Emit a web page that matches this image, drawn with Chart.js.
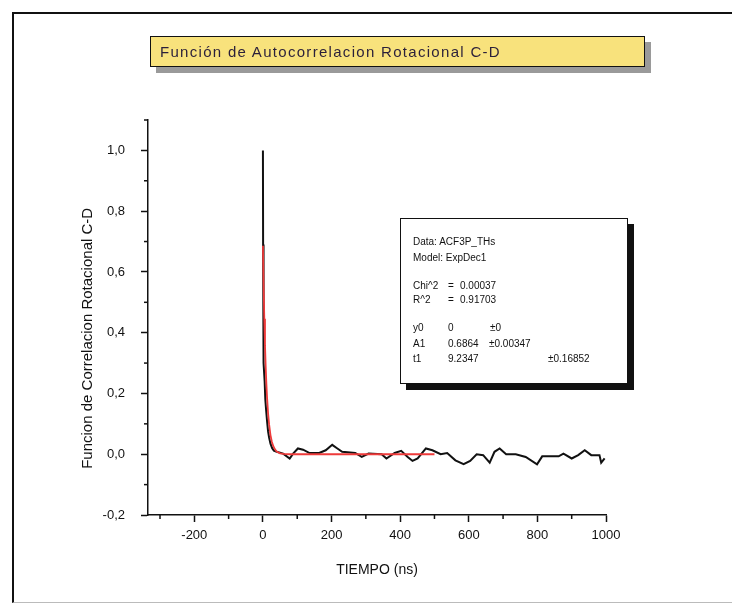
<!DOCTYPE html>
<html>
<head>
<meta charset="utf-8">
<script src="https://cdn.jsdelivr.net/npm/chart.js@4.4.1/dist/chart.umd.min.js"></script>
<style>
  html, body { margin: 0; padding: 0; background: #fff; }
  #wrap { position: relative; width: 732px; height: 605px; overflow: hidden; }
  #frame { position: absolute; left: 12px; top: 12px; width: 740px; height: 588px;
    border-left: 2px solid #111; border-top: 2px solid #111; border-bottom: 1px solid #bbb; }
  #title { position: absolute; left: 150px; top: 36px; width: 484px; height: 29px;
    background: #f8e27c; border: 1.5px solid #111; box-shadow: 6px 6px 0 #9a9a9a;
    font: 15px "Liberation Sans", Arial, sans-serif; letter-spacing: 1.3px; color: #2a1f3a;
    line-height: 29px; padding-left: 9px; box-sizing: content-box; }
  #info { position: absolute; left: 400px; top: 218px; width: 226px; height: 164px;
    background: #fff; border: 1.5px solid #111; box-shadow: 6px 6px 0 #111;
    font: 10px "Liberation Sans Narrow", "Liberation Sans", Arial, sans-serif; color: #111; }
  #info div { position: absolute; white-space: pre; }
  canvas { position: absolute; left: 0; top: 0; }
</style>
</head>
<body>
<div id="wrap">
  <div id="frame"></div>
  <canvas id="chart" width="732" height="605"></canvas>
  <div id="title">Función de Autocorrelacion Rotacional C-D</div>
  <div id="info">
    <div style="left:12px;top:17px">Data: ACF3P_THs</div>
    <div style="left:12px;top:33px">Model: ExpDec1</div>
    <div style="left:12px;top:61px">Chi^2</div><div style="left:47px;top:61px">=</div><div style="left:59px;top:61px">0.00037</div>
    <div style="left:12px;top:75px">R^2</div><div style="left:47px;top:75px">=</div><div style="left:59px;top:75px">0.91703</div>
    <div style="left:12px;top:103px">y0</div><div style="left:47px;top:103px">0</div><div style="left:89px;top:103px">±0</div>
    <div style="left:12px;top:119px">A1</div><div style="left:47px;top:119px">0.6864</div><div style="left:88px;top:119px">±0.00347</div>
    <div style="left:12px;top:134px">t1</div><div style="left:47px;top:134px">9.2347</div><div style="left:147px;top:134px">±0.16852</div>
  </div>
</div>
<script>
// measured autocorrelation (black)
var dataTime = [0, 0.5, 1, 1.5, 3, 5, 7, 9, 12, 15, 18, 22, 27, 32, 40, 59, 78, 88, 102, 117,
  136, 164, 183, 202, 217, 231, 269, 288, 308, 346, 360, 384, 403, 422, 436, 451, 475, 494,
  518, 537, 561, 585, 604, 623, 642, 661, 675, 690, 709, 737, 766, 799, 814, 862, 876, 900,
  919, 938, 957, 981, 986, 996];
var dataValue = [1.0, 0.69, 0.45, 0.38, 0.30, 0.24, 0.18, 0.15, 0.11, 0.075, 0.055, 0.035, 0.02, 0.012, 0.008, 0.002, -0.014, 0.002, 0.019, 0.015,
  0.004, 0.004, 0.013, 0.031, 0.019, 0.008, 0.004, -0.009, 0.002, 0.0, -0.014, 0.004, 0.011, -0.009, -0.022, -0.014, 0.019, 0.013,
  0.0, 0.004, -0.02, -0.033, -0.022, 0.0, -0.003, -0.028, 0.008, 0.019, 0.0, 0.0, -0.009, -0.033, -0.007, -0.007, 0.002, -0.014,
  -0.003, 0.013, -0.003, -0.003, -0.028, -0.014];

// ExpDec1 fit (red)
var fitTime = [0, 2, 4, 6, 8, 10, 12, 15, 18, 22, 26, 30, 35, 40, 50, 60, 80, 500];
var fitValue = [0.686, 0.553, 0.446, 0.359, 0.289, 0.233, 0.187, 0.135, 0.098, 0.063, 0.041, 0.027, 0.016, 0.009, 0.003, 0.001, 0.0, 0.0];

var xMajor = [-200, 0, 200, 400, 600, 800, 1000];
var yMajor = [-0.2, 0.0, 0.2, 0.4, 0.6, 0.8, 1.0];

function pairs(xs, ys) {
  return xs.map(function(x, i) { return {x: x, y: ys[i]}; });
}

function isMajor(list, v) {
  return list.some(function(m) { return Math.abs(m - v) < 1e-6; });
}

// short minor ticks, drawn through the scales
var minorTicks = {
  id: 'minorTicks',
  afterDraw: function(chart) {
    var c = chart.ctx;
    var xs = chart.scales.x, ys = chart.scales.y;
    c.save();
    c.strokeStyle = '#111';
    c.lineWidth = 1.5;
    xs.ticks.forEach(function(t) {
      if (isMajor(xMajor, t.value)) return;
      var px = xs.getPixelForValue(t.value);
      c.beginPath(); c.moveTo(px, xs.top); c.lineTo(px, xs.top + 4); c.stroke();
    });
    ys.ticks.forEach(function(t) {
      if (isMajor(yMajor, t.value)) return;
      var py = ys.getPixelForValue(t.value);
      c.beginPath(); c.moveTo(ys.right, py); c.lineTo(ys.right - 4, py); c.stroke();
    });
    c.restore();
  }
};

var ctx = document.querySelector('#chart').getContext('2d');

new Chart(ctx, {
  type: 'line',
  data: {
    datasets: [
      {
        data: pairs(fitTime, fitValue),
        borderColor: '#ee3a3a',
        borderWidth: 1.8,
        pointRadius: 0,
        tension: 0,
        order: 0
      },
      {
        data: pairs(dataTime, dataValue),
        borderColor: '#111',
        borderWidth: 2,
        pointRadius: 0,
        tension: 0,
        order: 1
      }
    ]
  },
  options: {
    responsive: false,
    animation: false,
    layout: { padding: { top: 120, right: 126, left: 0, bottom: 0 } },
    plugins: { legend: { display: false }, tooltip: { enabled: false } },
    scales: {
      x: {
        type: 'linear',
        min: -335,
        max: 1000,
        afterFit: function(s) { s.height = 90; },
        border: { display: true, color: '#111', width: 1.5 },
        grid: {
          drawOnChartArea: false,
          tickLength: 7,
          tickWidth: 1.5,
          tickColor: function(c) { return isMajor(xMajor, c.tick.value) ? '#111' : 'rgba(0,0,0,0)'; }
        },
        ticks: {
          stepSize: 100,
          includeBounds: false,
          autoSkip: false,
          maxRotation: 0,
          padding: 6,
          color: '#111',
          font: { family: 'Liberation Sans', size: 13 },
          callback: function(v) { return isMajor(xMajor, v) ? String(Math.round(v)) : ''; }
        },
        title: {
          display: true,
          text: 'TIEMPO (ns)',
          color: '#111',
          font: { family: 'Liberation Sans', size: 14 },
          padding: { top: 0, bottom: 26 }
        }
      },
      y: {
        type: 'linear',
        min: -0.2,
        max: 1.1,
        afterFit: function(s) { s.width = 148; },
        border: { display: true, color: '#111', width: 1.5 },
        grid: {
          drawOnChartArea: false,
          tickLength: 7,
          tickWidth: 1.5,
          tickColor: function(c) { return isMajor(yMajor, c.tick.value) ? '#111' : 'rgba(0,0,0,0)'; }
        },
        ticks: {
          stepSize: 0.1,
          autoSkip: false,
          padding: 16,
          color: '#111',
          font: { family: 'Liberation Sans', size: 13 },
          callback: function(v) {
            return isMajor(yMajor, v) ? v.toFixed(1).replace('.', ',') : '';
          }
        },
        title: {
          display: true,
          text: 'Funcion de Correlacion Rotacional C-D          ',
          color: '#111',
          font: { family: 'Liberation Sans', size: 15 },
          padding: { top: 79, bottom: 0 }
        }
      }
    }
  },
  plugins: [minorTicks]
});
</script>
</body>
</html>
